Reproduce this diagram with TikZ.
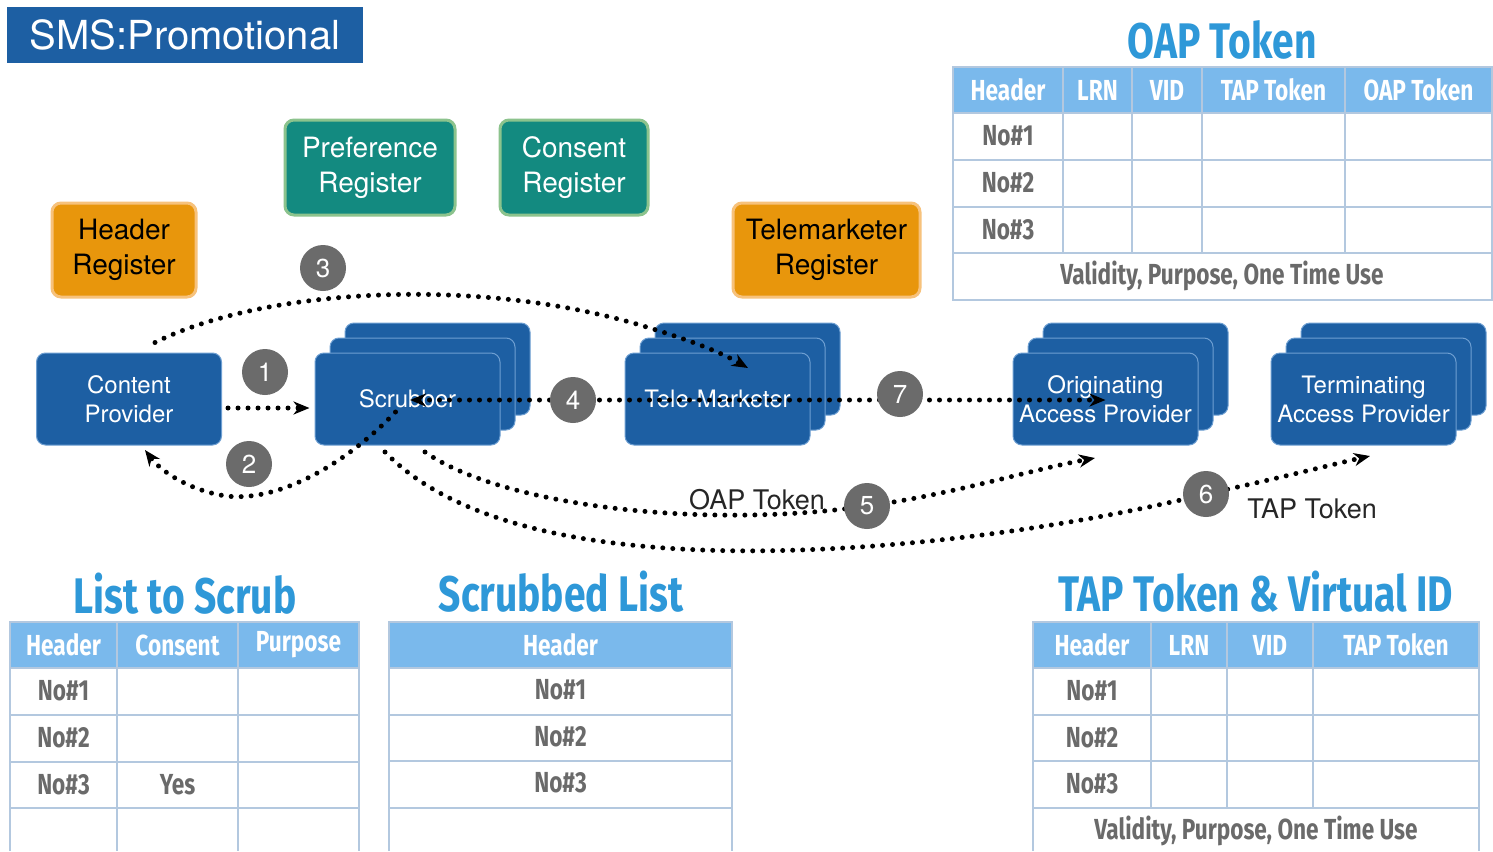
\documentclass[tikz,border=0pt]{standalone}
\usepackage{fontspec}
\setmainfont{TeX Gyre Heros}
\newfontfamily\hand[FakeStretch=0.78]{Fira Sans}
\usetikzlibrary{arrows.meta}
\definecolor{boxblue}{HTML}{1D5FA3}
\definecolor{boxedge}{HTML}{6E9FD2}
\definecolor{orangebox}{HTML}{E8960C}
\definecolor{orangeedge}{HTML}{F7C27C}
\definecolor{tealbox}{HTML}{138A80}
\definecolor{tealedge}{HTML}{8CC38D}
\definecolor{numgray}{HTML}{6B6B6B}
\definecolor{gridc}{HTML}{B3C8DF}
\definecolor{headfill}{HTML}{7AB9EC}
\definecolor{titleblue}{HTML}{2E98D8}
\definecolor{rowtext}{HTML}{6A6A6A}
\newcommand\mystack[4]{%
  \node[bluebox] (#1b2) at (#2+30,#3-30) {};
  \node[bluebox] (#1b1) at (#2+15,#3-15) {};
  \node[bluebox] (#1) at (#2,#3) {#4};}
\begin{document}
\begin{tikzpicture}[x=1pt,y=-1pt,
  bluebox/.style={rectangle, rounded corners=9pt, fill=boxblue, draw=boxedge, line width=1pt,
     minimum width=185pt, minimum height=92pt, text=white, align=center,
     font=\fontsize{24}{29}\selectfont},
  orbox/.style={rectangle, rounded corners=9pt, fill=orangebox, draw=orangeedge, line width=3pt,
     text=black, align=center, font=\fontsize{28}{35}\selectfont},
  tlbox/.style={rectangle, rounded corners=9pt, fill=tealbox, draw=tealedge, line width=3pt,
     text=white, align=center, font=\fontsize{28}{35}\selectfont},
  num/.style={circle, fill=numgray, minimum size=46pt, inner sep=0pt, text=white,
     font=\fontsize{26}{30}\selectfont},
  dotarrow/.style={line width=5pt, dash pattern=on 0pt off 10pt, line cap=round,
     -{Stealth[length=16pt,width=13pt,inset=5pt]}},
  lbl/.style={font=\fontsize{27}{32}\selectfont, text=black!85},
  ttl/.style={font=\hand\bfseries\fontsize{50}{56}\selectfont, text=titleblue},
  hd/.style={font=\hand\bfseries\fontsize{29}{34}\selectfont, text=white},
  rw/.style={font=\hand\bfseries\fontsize{29}{34}\selectfont, text=rowtext},
  grid/.style={draw=gridc, line width=1.6pt}
]
\useasboundingbox (0,0) rectangle (1493,851);
\fill[white] (0,0) rectangle (1493,851);

% title
\node[rectangle, fill=boxblue, minimum width=356pt, minimum height=56pt, text=white,
  font=\fontsize{40}{46}\selectfont] (title) at (185,35) {SMS:Promotional};

% registers
\node[orbox, minimum width=144pt, minimum height=94pt] (hreg) at (124,250) {Header\\Register};
\node[tlbox, minimum width=170pt, minimum height=95pt] (preg) at (370,167.5) {Preference\\Register};
\node[tlbox, minimum width=148pt, minimum height=95pt] (creg) at (574,167.5) {Consent\\Register};
\node[orbox, minimum width=187pt, minimum height=94pt] (treg) at (826.5,250) {Telemarketer\\Register};

% entities
\node[bluebox] (cp) at (129,399) {Content\\Provider};
\mystack{scr}{407.5}{399}{Scrubber}
\mystack{tm}{717.5}{399}{Tele-Marketer}
\mystack{oap}{1105.5}{399}{Originating\\Access Provider}
\mystack{tap}{1363.5}{399}{Terminating\\Access Provider}

% connectors
\draw[dotarrow] ([shift={(6,9)}]cp.east) -- ([shift={(-5,9)}]scr.west);
\draw[dotarrow] ([shift={(-12,13)}]scr.center) .. controls (340,470) and (270,505) .. (220,495)
   .. controls (185,488) and (160,470) .. ([shift={(16,51)}]cp.center);
\draw[dotarrow] ([shift={(26,-10)}]cp.north) .. controls (260,290) and (470,275) .. (640,325)
   .. controls (690,340) and (720,352) .. ([shift={(30.5,-31)}]tm.center);
\draw[dotarrow] ([shift={(82,1)}]tm.center) -- ([shift={(2.5,1)}]scr.center);
\draw[dotarrow] ([shift={(92,1)}]tm.center) -- ([shift={(0,1)}]oap.center);
\draw[dotarrow] ([shift={(17.5,53)}]scr.center) .. controls (500,505) and (700,530) .. (867,506)
   .. controls (950,495) and (1030,470) .. ([shift={(-10.5,59)}]oap.center);
\draw[dotarrow] ([shift={(-22.5,53)}]scr.center) .. controls (470,540) and (650,555) .. (800,550)
   .. controls (950,545) and (1100,520) .. (1206,494)
   .. controls (1280,478) and (1330,465) .. ([shift={(6.5,57)}]tap.center);

% numbers
\node[num] (n1) at (265,372) {1};
\node[num] (n2) at (249,464) {2};
\node[num] (n3) at (323,268) {3};
\node[num] (n4) at (573,400) {4};
\node[num] (n5) at (867,506) {5};
\node[num] (n6) at (1206,494) {6};
\node[num] (n7) at (900,394) {7};

\node[lbl] (oaplbl) at (757,500) {OAP Token};
\node[lbl] (taplbl) at (1312,509) {TAP Token};

% ---------- OAP Token table
\node[ttl] (t1) at (1222,40) {OAP Token};
\fill[headfill] (953,67) rectangle (1492,113);
\draw[grid] (953,67) rectangle (1492,300);
\foreach \yy in {113,160,207,253} \draw[grid] (953,\yy) -- (1492,\yy);
\foreach \xx in {1063,1132,1202,1345} \draw[grid] (\xx,67) -- (\xx,253);
\node[hd] (t1h1) at (1008,90) {Header};
\node[hd] (t1h2) at (1097.5,90) {LRN};
\node[hd] (t1h3) at (1167,90) {VID};
\node[hd] (t1h4) at (1273.5,90) {TAP Token};
\node[hd] (t1h5) at (1418.5,90) {OAP Token};
\node[rw] (t1r1) at (1008,136) {No\#1};
\node[rw] (t1r2) at (1008,183) {No\#2};
\node[rw] (t1r3) at (1008,230) {No\#3};
\node[rw] (t1v) at (1222,276) {Validity, Purpose, One Time Use};

% ---------- List to Scrub
\node[ttl] (t2) at (185,594) {List to Scrub};
\fill[headfill] (10,622) rectangle (359,668);
\draw[grid] (10,851) -- (10,622) -- (359,622) -- (359,851);
\foreach \yy in {668,715,762,808} \draw[grid] (10,\yy) -- (359,\yy);
\foreach \xx in {117,238} \draw[grid] (\xx,622) -- (\xx,851);
\node[hd] (t2h1) at (63.5,645) {Header};
\node[hd] (t2h2) at (177.5,645) {Consent};
\node[hd] (t2h3) at (298.5,645) {Purpose};
\node[rw] (t2r1) at (63.5,691) {No\#1};
\node[rw] (t2r2) at (63.5,738) {No\#2};
\node[rw] (t2r3) at (63.5,785) {No\#3};
\node[rw] (t2y) at (177.5,785) {Yes};

% ---------- Scrubbed List
\node[ttl] (t3) at (561,592) {Scrubbed List};
\fill[headfill] (389,622) rectangle (732,668);
\draw[grid] (389,851) -- (389,622) -- (732,622) -- (732,851);
\foreach \yy in {668,715,761,808} \draw[grid] (389,\yy) -- (732,\yy);
\node[hd] (t3h1) at (560.5,645) {Header};
\node[rw] (t3r1) at (560.5,690) {No\#1};
\node[rw] (t3r2) at (560.5,737) {No\#2};
\node[rw] (t3r3) at (560.5,783) {No\#3};

% ---------- TAP Token & Virtual ID
\node[ttl] (t4) at (1256,592) {TAP Token \& Virtual ID};
\fill[headfill] (1033,622) rectangle (1479,668);
\draw[grid] (1033,851) -- (1033,622) -- (1479,622) -- (1479,851);
\foreach \yy in {668,715,761,808} \draw[grid] (1033,\yy) -- (1479,\yy);
\foreach \xx in {1151,1227,1313} \draw[grid] (\xx,622) -- (\xx,808);
\node[hd] (t4h1) at (1092,645) {Header};
\node[hd] (t4h2) at (1189,645) {LRN};
\node[hd] (t4h3) at (1270,645) {VID};
\node[hd] (t4h4) at (1396,645) {TAP Token};
\node[rw] (t4r1) at (1092,691) {No\#1};
\node[rw] (t4r2) at (1092,738) {No\#2};
\node[rw] (t4r3) at (1092,784) {No\#3};
\node[rw] (t4v) at (1256,831) {Validity, Purpose, One Time Use};
\end{tikzpicture}
\end{document}
